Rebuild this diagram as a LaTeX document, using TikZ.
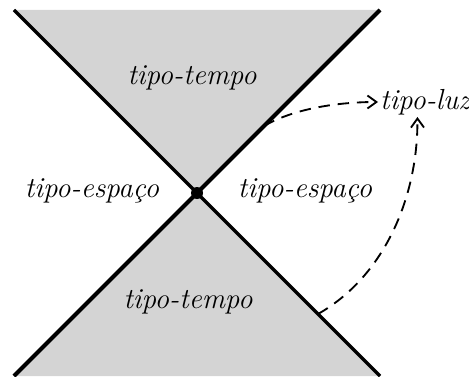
\documentclass[tikz,border=0pt]{standalone}
\usetikzlibrary{arrows.meta,calc}

\begin{document}
\begin{tikzpicture}[x=0.02cm, y=0.02cm,
    region/.style={font=\fontsize{16.5}{19}\selectfont\itshape, inner sep=1pt},
    cone/.style={fill=black!17, draw=none},
    edge/.style={line width=1.9pt},
    arrow/.style={-{Straight Barb[length=1.8mm,width=2.6mm]}, dash pattern=on 6.5pt off 4.5pt, line width=1.05pt}
]
    \useasboundingbox (0,0) rectangle (469,376);
    \clip (0,0) rectangle (469,376);

    \coordinate (o) at (197,183);
    \coordinate (nw) at (14,366);
    \coordinate (ne) at (380,366);
    \coordinate (sw) at (14,0);
    \coordinate (se) at (380,0);

    \fill[cone] (o) -- (nw) -- (ne) -- cycle;
    \fill[cone] (o) -- (sw) -- (se) -- cycle;
    \draw[edge] (nw) -- (se);
    \draw[edge, line width=2.3pt] (sw) -- (ne);
    \fill (o) circle (6);

    \node[region] (tt) at (192,298) {tipo-tempo};
    \node[region] (tb) at (188,74) {tipo-tempo};
    \node[region] (el) at (92,185) {tipo-espaço};
    \node[region] (er) at (305,185) {tipo-espaço};
    \node[region, anchor=west] (luz) at (378,274) {tipo-luz};

    \coordinate (p1) at (264,250);
    \coordinate (p2) at (318,62);
    \draw[arrow] (p1) .. controls (295,268) and (340,274) .. (luz.west);
    \draw[arrow] (p2) .. controls (385,100) and (418,180) .. (luz.243);
\end{tikzpicture}
\end{document}
